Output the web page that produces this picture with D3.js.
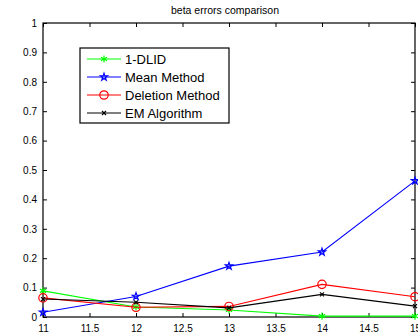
<!DOCTYPE html>
<html>
<head>
<meta charset="utf-8">
<script src="https://cdn.jsdelivr.net/npm/d3@7"></script>
<style>
  body { margin: 0; background: #fff; }
  text { font-family: "Liberation Sans", Arial, sans-serif; fill: #000; }
</style>
</head>
<body>
<div id="chart"></div>
<script>
// data
var xValues = [11, 12, 13, 14, 15];
var dlid = [0.089, 0.034, 0.024, 0.003, 0.003];
var meanMethod = [0.016, 0.070, 0.173, 0.221, 0.463];
var deletionMethod = [0.065, 0.033, 0.036, 0.111, 0.069];
var emAlgorithm = [0.061, 0.050, 0.031, 0.077, 0.037];
var seriesNames = ["1-DLID", "Mean Method", "Deletion Method", "EM Algorithm"];
var xTicks = [11, 11.5, 12, 12.5, 13, 13.5, 14, 14.5, 15];
var yTicks = [0, 0.1, 0.2, 0.3, 0.4, 0.5, 0.6, 0.7, 0.8, 0.9, 1];

var svgWidth = 418;
var svgHeight = 334;
var margin = { top: 23, right: 3, bottom: 17, left: 43 };
var width = svgWidth - margin.left - margin.right;
var height = svgHeight - margin.top - margin.bottom;

var svg = d3.select("#chart")
  .append("svg")
  .attr("width", svgWidth)
  .attr("height", svgHeight);

var chartGroup = svg.append("g")
  .attr("transform", `translate(${margin.left}, ${margin.top})`);

var xScale = d3.scaleLinear().domain([11, 15]).range([0, width]);
var yScale = d3.scaleLinear().domain([0, 1]).range([height, 0]);

var series = [
  { name: seriesNames[0], values: dlid, color: "#00ff00", symbol: d3.symbolAsterisk, size: 36 },
  { name: seriesNames[1], values: meanMethod, color: "#0000ff", symbol: d3.symbolStar, size: 16 },
  { name: seriesNames[2], values: deletionMethod, color: "#ff0000", symbol: d3.symbolCircle, size: 55 },
  { name: seriesNames[3], values: emAlgorithm, color: "#000000", symbol: d3.symbolX, size: 12 }
];

// axes with inward ticks, box on
function styleAxis(g) {
  g.select(".domain").remove();
  g.selectAll("line").attr("stroke", "#000");
  g.selectAll("text").attr("font-size", "10px");
}

chartGroup.append("g")
  .attr("transform", `translate(0, ${height})`)
  .call(d3.axisBottom(xScale).tickValues(xTicks).tickSize(-4).tickPadding(8)
    .tickFormat(d3.format("")))
  .call(styleAxis);

chartGroup.append("g")
  .call(d3.axisTop(xScale).tickValues(xTicks).tickSize(-4).tickFormat(""))
  .call(styleAxis);

chartGroup.append("g")
  .call(d3.axisLeft(yScale).tickValues(yTicks).tickSize(-4).tickPadding(6)
    .tickFormat(d3.format("")))
  .call(styleAxis);

chartGroup.append("g")
  .attr("transform", `translate(${width}, 0)`)
  .call(d3.axisRight(yScale).tickValues(yTicks).tickSize(-4).tickFormat(""))
  .call(styleAxis);

chartGroup.append("rect")
  .attr("x", 0)
  .attr("y", 0)
  .attr("width", width)
  .attr("height", height)
  .attr("fill", "none")
  .attr("stroke", "#000")
  .attr("stroke-width", 1.2);

// lines and markers
var line = d3.line()
  .x((d, i) => xScale(xValues[i]))
  .y(d => yScale(d));

series.forEach(function(s) {
  chartGroup.append("path")
    .datum(s.values)
    .attr("d", line)
    .attr("fill", "none")
    .attr("stroke", s.color)
    .attr("stroke-width", 1.1);

  chartGroup.selectAll(null)
    .data(s.values)
    .enter()
    .append("path")
    .attr("transform", (d, i) => `translate(${xScale(xValues[i])}, ${yScale(d)})`)
    .attr("d", d3.symbol().type(s.symbol).size(s.size))
    .attr("fill", "none")
    .attr("stroke", s.color)
    .attr("stroke-width", 1.2);
});

// title
svg.append("text")
  .attr("x", 225)
  .attr("y", 14)
  .attr("text-anchor", "middle")
  .attr("font-size", "10.5px")
  .text("beta errors comparison");

// legend
var legend = svg.append("g").attr("transform", "translate(80, 48)");

legend.append("rect")
  .attr("width", 149)
  .attr("height", 75)
  .attr("fill", "#fff")
  .attr("stroke", "#000")
  .attr("stroke-width", 1.2);

series.forEach(function(s, i) {
  var y = 11 + i * 18;
  legend.append("line")
    .attr("x1", 7)
    .attr("x2", 41)
    .attr("y1", y)
    .attr("y2", y)
    .attr("stroke", s.color)
    .attr("stroke-width", 1.1);
  legend.append("path")
    .attr("transform", `translate(24, ${y})`)
    .attr("d", d3.symbol().type(s.symbol).size(s.size))
    .attr("fill", "none")
    .attr("stroke", s.color)
    .attr("stroke-width", 1.2);
  legend.append("text")
    .attr("x", 45)
    .attr("y", y + 4.5)
    .attr("font-size", "13px")
    .text(s.name);
});
</script>
</body>
</html>
